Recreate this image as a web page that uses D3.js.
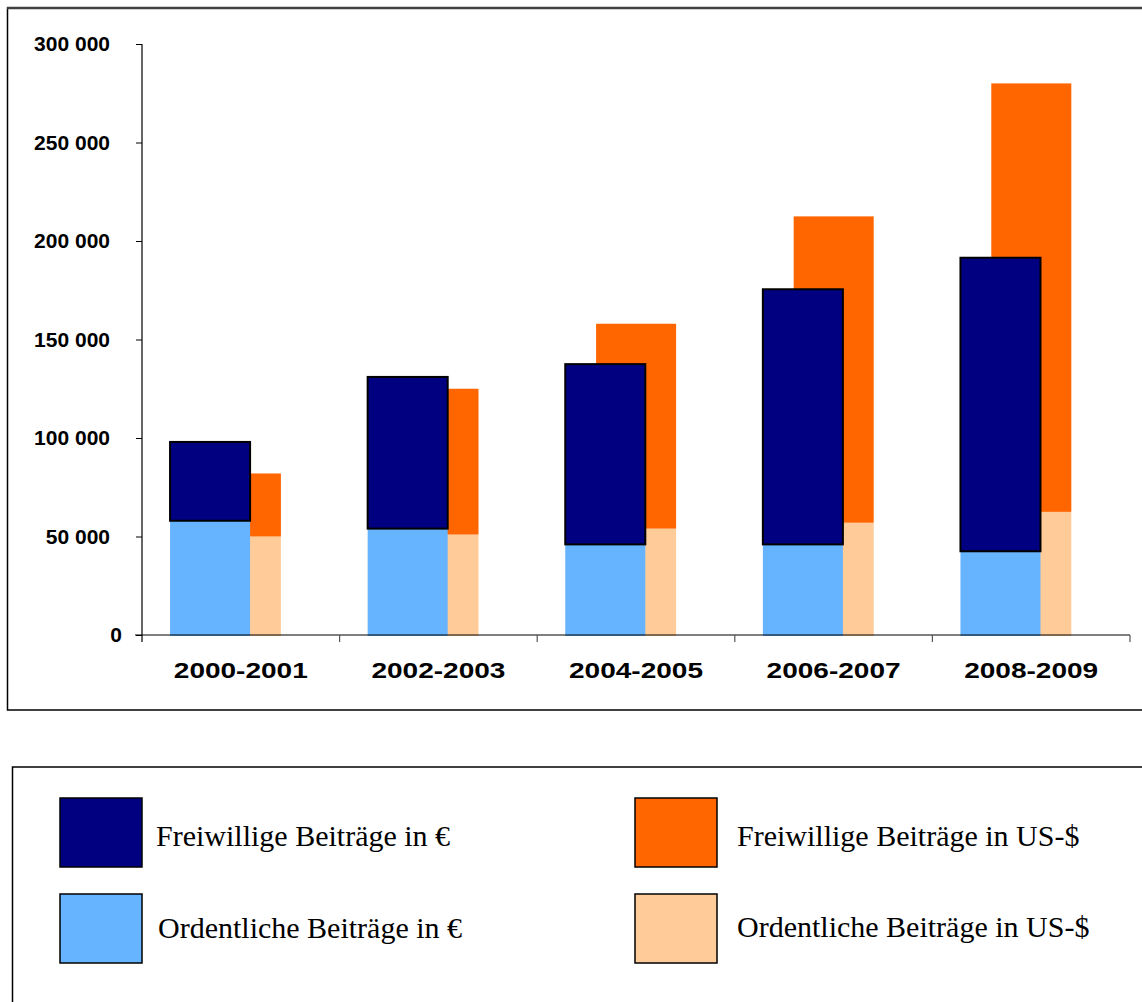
<!DOCTYPE html>
<html>
<head>
<meta charset="utf-8">
<script src="https://cdn.jsdelivr.net/npm/d3@7"></script>
<style>
  html, body { margin: 0; padding: 0; background: #fff; }
  svg { display: block; }
</style>
</head>
<body>
<svg id="chart" width="1142" height="1002"></svg>
<script>
// ---- data ----
const categories = ["2000-2001", "2002-2003", "2004-2005", "2006-2007", "2008-2009"];
const euroOrdentlich   = [58000, 54000, 46000, 46000, 42500];
const euroFreiwillig   = [40000, 77000, 91500, 129500, 149000];
const usdOrdentlich    = [50000, 51000, 54000, 57000, 62500];
const usdFreiwillig    = [32000, 74000, 104000, 155500, 217500];
const yTicks = [0, 50000, 100000, 150000, 200000, 250000, 300000];
const legendLabels = [
  "Freiwillige Beiträge in €",
  "Freiwillige Beiträge in US-$",
  "Ordentliche Beiträge in €",
  "Ordentliche Beiträge in US-$"
];

const colors = {
  euroFrei: "#000080",
  euroOrd: "#66B3FF",
  usdFrei: "#FF6600",
  usdOrd: "#FFCC99"
};

const svg = d3.select("#chart");

// frames
svg.append("rect").attr("x", 7.5).attr("y", 8).attr("width", 1160).attr("height", 702)
  .attr("fill", "none").attr("stroke", "#000").attr("stroke-width", 1.5);
svg.append("line").attr("x1", 7).attr("x2", 1142).attr("y1", 8).attr("y2", 8)
  .attr("stroke", "#404040").attr("stroke-width", 2.5);
svg.append("rect").attr("x", 12.5).attr("y", 767).attr("width", 1160).attr("height", 300)
  .attr("fill", "none").attr("stroke", "#000").attr("stroke-width", 1.5);

// scales
const x = d3.scaleBand().domain(categories).range([142, 1130]).padding(0);
const y = d3.scaleLinear().domain([0, 300000]).range([635, 44]);
const bw = x.bandwidth();
const barW = bw * 0.405;
const euroOff = bw * 0.142;
const usdOff = bw * 0.298;

const rows = categories.map((c, i) => ({
  cat: c,
  euroOrd: euroOrdentlich[i], euroFrei: euroFreiwillig[i],
  usdOrd: usdOrdentlich[i], usdFrei: usdFreiwillig[i]
}));
const euroStack = d3.stack().keys(["euroOrd", "euroFrei"])(rows);
const usdStack = d3.stack().keys(["usdOrd", "usdFrei"])(rows);

const plot = svg.append("g");

// US bars (behind)
usdStack.forEach(layer => {
  plot.append("g").selectAll("rect").data(layer).join("rect")
    .attr("x", d => x(d.data.cat) + usdOff)
    .attr("width", barW)
    .attr("y", d => y(d[1]))
    .attr("height", d => y(d[0]) - y(d[1]) + (layer.key === "usdOrd" ? 1 : 0))
    .attr("fill", colors[layer.key]);
});

// Euro bars
euroStack.forEach(layer => {
  const isFrei = layer.key === "euroFrei";
  plot.append("g").selectAll("rect").data(layer).join("rect")
    .attr("x", d => x(d.data.cat) + euroOff)
    .attr("width", barW)
    .attr("y", d => y(d[1]))
    .attr("height", d => y(d[0]) - y(d[1]) + (isFrei ? 0 : 1))
    .attr("fill", colors[layer.key])
    .attr("stroke", isFrei ? "#000" : "none")
    .attr("stroke-width", isFrei ? 2 : 0);
});

// y axis
const yAxis = svg.append("g").attr("transform", "translate(142,0)")
  .call(d3.axisLeft(y).tickValues(yTicks).tickSize(6).tickFormat(""));
yAxis.select(".domain").attr("d", `M0,${y(300000)}V642`).attr("stroke", "#000").attr("stroke-width", 1.2);
yAxis.selectAll(".tick line").attr("stroke", "#000");

const fmt = v => d3.format(",")(v).replace(/,/g, " ");
svg.append("g").selectAll("text").data(yTicks).join("text")
  .attr("x", d => d === 0 ? 122 : 110)
  .attr("y", d => y(d) + 7)
  .attr("text-anchor", "end")
  .attr("font-family", "Liberation Sans, Arial, sans-serif")
  .attr("font-weight", "bold")
  .attr("font-size", 21)
  .attr("fill", "#000")
  .text(d => fmt(d));

// x axis
const xAxis = svg.append("g").attr("transform", `translate(0,${y(0)})`);
xAxis.append("line").attr("x1", 135).attr("x2", 1130).attr("y1", 0).attr("y2", 0)
  .attr("stroke", "#000").attr("stroke-width", 1.2);
const boundaries = categories.map(c => x(c)).concat([x(categories[categories.length - 1]) + bw]);
xAxis.selectAll("line.tk").data(boundaries.slice(1)).join("line").attr("class", "tk")
  .attr("x1", d => d).attr("x2", d => d).attr("y1", 0).attr("y2", 7)
  .attr("stroke", "#555").attr("stroke-width", 1.2);

svg.append("g").selectAll("text").data(categories).join("text")
  .attr("x", d => x(d) + bw / 2)
  .attr("y", 678)
  .attr("text-anchor", "middle")
  .attr("font-family", "Liberation Sans, Arial, sans-serif")
  .attr("font-weight", "bold")
  .attr("font-size", 22)
  .attr("textLength", 134)
  .attr("lengthAdjust", "spacingAndGlyphs")
  .attr("fill", "#000")
  .text(d => d);

// legend
const legendItems = [
  { label: legendLabels[0], color: colors.euroFrei, sx: 60, sy: 798, tx: 156, ty: 846 },
  { label: legendLabels[1], color: colors.usdFrei, sx: 635, sy: 798, tx: 737, ty: 846 },
  { label: legendLabels[2], color: colors.euroOrd, sx: 60, sy: 894, tx: 158, ty: 938 },
  { label: legendLabels[3], color: colors.usdOrd, sx: 635, sy: 894, tx: 737, ty: 937 }
];
const lg = svg.append("g").selectAll("g").data(legendItems).join("g");
lg.append("rect")
  .attr("x", d => d.sx).attr("y", d => d.sy).attr("width", 82).attr("height", 69)
  .attr("fill", d => d.color).attr("stroke", "#000").attr("stroke-width", 1.5);
lg.append("text")
  .attr("x", d => d.tx).attr("y", d => d.ty)
  .attr("font-family", "Liberation Serif, 'Times New Roman', serif")
  .attr("font-size", 30)
  .attr("fill", "#000")
  .text(d => d.label);
</script>
</body>
</html>
